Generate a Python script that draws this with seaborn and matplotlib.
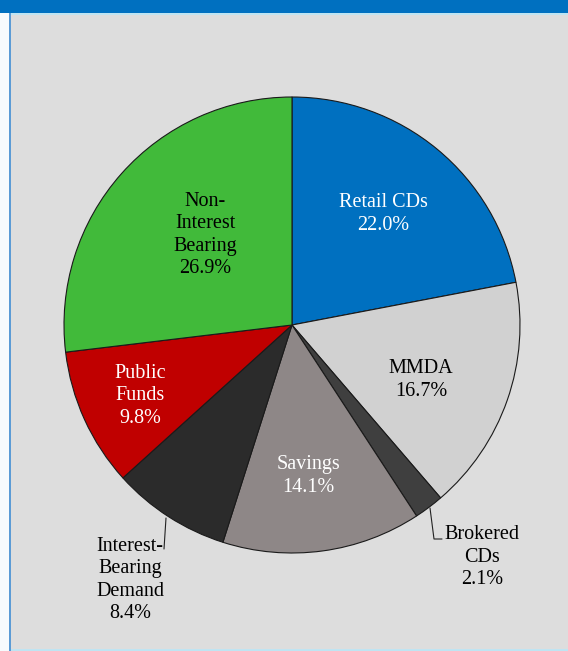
import matplotlib
matplotlib.use("Agg")
import matplotlib.pyplot as plt
from matplotlib.patches import Rectangle
import seaborn as sns

# ---- data ----
categories = ["Retail CDs", "MMDA", "Brokered CDs", "Savings",
              "Interest-Bearing Demand", "Public Funds", "Non-Interest Bearing"]
values = [22.0, 16.7, 2.1, 14.1, 8.4, 9.8, 26.9]
label_texts = ["Retail CDs", "MMDA", "Brokered\nCDs", "Savings",
               "Interest-\nBearing\nDemand", "Public\nFunds", "Non-\nInterest\nBearing"]
colors = ["#0070C0", "#D1D1D1", "#3F3F3F", "#8E8787", "#2B2B2B", "#C00000", "#41BA3A"]
text_colors = ["white", "black", "black", "white", "black", "white", "black"]

sns.set_theme(style="white")
plt.rcParams['font.family'] = ['Liberation Serif', 'DejaVu Serif']

W, H = 568, 651
fig = plt.figure(figsize=(W / 100, H / 100), dpi=100)
fig.patch.set_facecolor("#DDDDDD")

# frame decorations
fig.patches.append(Rectangle((0, 0), 9 / W, 1, transform=fig.transFigure,
                             facecolor="#F7FBFD", edgecolor="none", zorder=0))
fig.patches.append(Rectangle((9 / W, 0), 1.5 / W, 1, transform=fig.transFigure,
                             facecolor="#5B9BD5", edgecolor="none", zorder=0))
fig.patches.append(Rectangle((0, 1 - 13 / H), 1, 13 / H, transform=fig.transFigure,
                             facecolor="#0070C0", edgecolor="none", zorder=0))
fig.patches.append(Rectangle((10.5 / W, 1 - 15 / H), 1, 2 / H, transform=fig.transFigure,
                             facecolor="#BFE4F2", edgecolor="none", zorder=0))
fig.patches.append(Rectangle((10.5 / W, 0), 1, 2 / H, transform=fig.transFigure,
                             facecolor="#BFE4F2", edgecolor="none", zorder=0))

cx, cy, r = 292, 325, 228
ax = fig.add_axes([(cx - r) / W, (H - cy - r) / H, 2 * r / W, 2 * r / H])
ax.set_facecolor("none")

wedges, _ = ax.pie(values, colors=colors, startangle=90, counterclock=False,
                   radius=1.0,
                   wedgeprops=dict(edgecolor="#1A1A1A", linewidth=0.8))
ax.set_xlim(-1, 1)
ax.set_ylim(-1, 1)
ax.set_aspect("auto")
ax.axis("off")

def d(px, py):
    return ((px - cx) / r, (cy - py) / r)

label_pos = [d(383, 214), d(421, 380), d(482, 557), d(308, 476),
             d(130, 580), d(140, 396), d(205, 235)]

for txt, val, pos, tc in zip(label_texts, values, label_pos, text_colors):
    ax.text(pos[0], pos[1], f"{txt}\n{val:.1f}%", ha="center", va="center",
            color=tc, fontsize=14.5, linespacing=1.22, clip_on=False)

# leader lines
x1, y1 = d(166, 518)
x2, y2 = d(164, 549)
ax.plot([x1, x2], [y1, y2], color="#222222", lw=0.8, clip_on=False)
xa, ya = d(430, 508)
xb, yb = d(434, 539)
xc, yc = d(442, 539)
ax.plot([xa, xb, xc], [ya, yb, yc], color="#222222", lw=0.8, clip_on=False)

fig.savefig("out.png", dpi=100, facecolor=fig.get_facecolor())
